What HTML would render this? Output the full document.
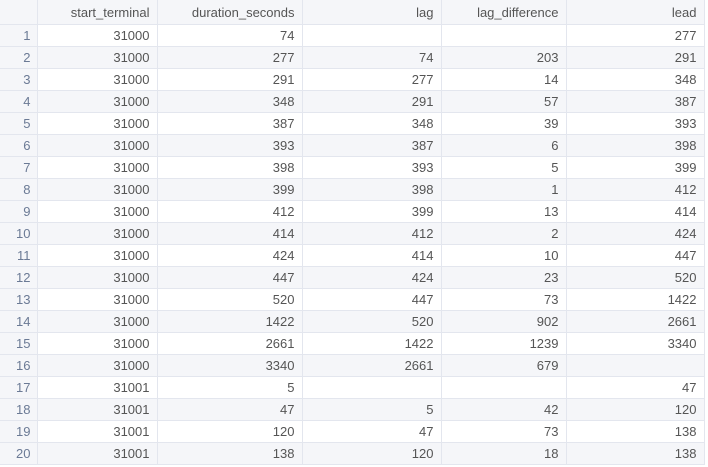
<!DOCTYPE html>
<html><head><meta charset="utf-8"><style>
body{margin:0;background:#fff;width:708px;height:467px;overflow:hidden;font-family:"Liberation Sans",sans-serif;font-size:13px;color:#555}
table{border-collapse:collapse;table-layout:fixed;position:absolute;left:0;top:0}
td,th{height:21px;border:1px solid #e3e6ee;padding:0 7px 0 0;text-align:right;font-weight:normal;white-space:nowrap;overflow:hidden}
th{height:24px;background:#f5f6f9;color:#555;border-top:none}
tr.even td{background:#f5f6f9}
td.idx{background:#f5f6f9;color:#6b7a95;border-left:none;padding-right:6px}
th.idx{border-left:none}
</style></head><body>
<table>
<colgroup><col style="width:37px"><col style="width:120px"><col style="width:145px"><col style="width:139px"><col style="width:125px"><col style="width:138px"></colgroup>
<thead><tr>
<th class="idx"></th>
<th>start_terminal</th>
<th>duration_seconds</th>
<th>lag</th>
<th>lag_difference</th>
<th>lead</th>
</tr></thead>
<tbody id="tb"></tbody></table>
<script>
const terminals=[31000,31000,31000,31000,31000,31000,31000,31000,31000,31000,31000,31000,31000,31000,31000,31000,31001,31001,31001,31001];
const durations=[74,277,291,348,387,393,398,399,412,414,424,447,520,1422,2661,3340,5,47,120,138];
const lags=["",74,277,291,348,387,393,398,399,412,414,424,447,520,1422,2661,"",5,47,120];
const lagDiffs=["",203,14,57,39,6,5,1,13,2,10,23,73,902,1239,679,"",42,73,18];
const leads=[277,291,348,387,393,398,399,412,414,424,447,520,1422,2661,3340,"",47,120,138,138];
const tb=document.getElementById('tb');
for(let i=0;i<terminals.length;i++){
  const tr=document.createElement('tr');
  
  
  if(i%2===1)tr.className='even';
  const vals=[i+1,terminals[i],durations[i],lags[i],lagDiffs[i],leads[i]];
  vals.forEach((v,j)=>{
    const td=document.createElement('td');
    
    
    if(j===0)td.className='idx';
    td.textContent=v;
    tr.appendChild(td);
  });
  tb.appendChild(tr);
}
</script>
</body></html>
